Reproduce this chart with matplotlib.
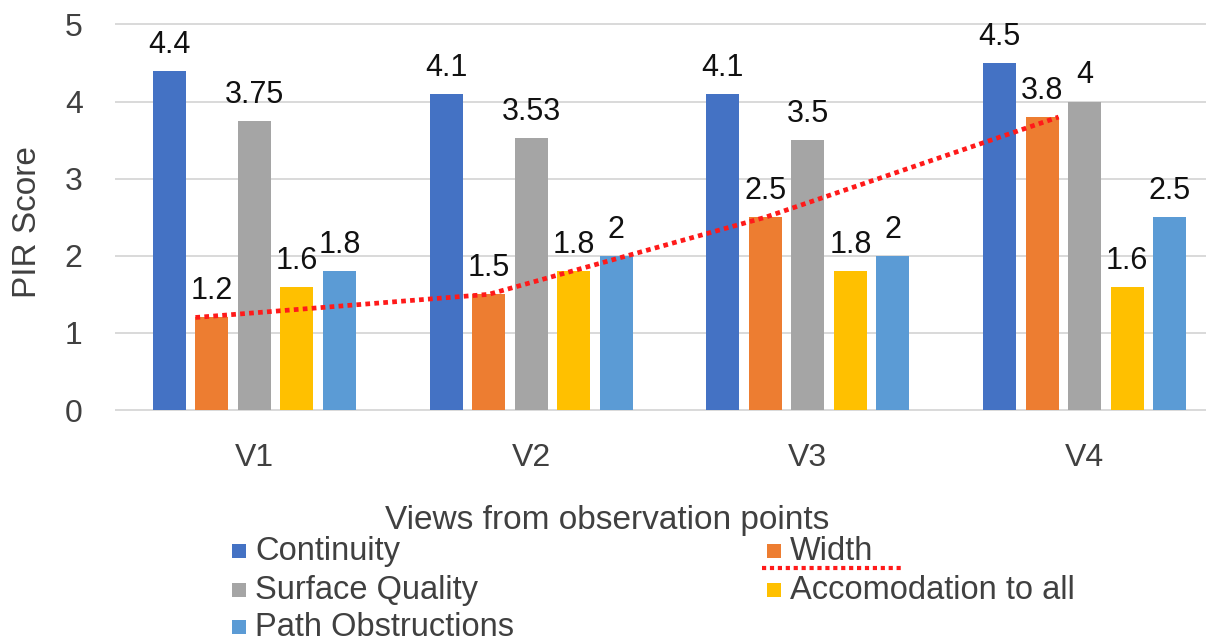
import matplotlib.pyplot as plt
from matplotlib.patches import Rectangle
from matplotlib.lines import Line2D
import numpy as np

plt.rcParams['font.family'] = ['Liberation Sans', 'DejaVu Sans']

views = ['V1', 'V2', 'V3', 'V4']
series = ['Continuity', 'Width', 'Surface Quality', 'Accomodation to all', 'Path Obstructions']
continuity = [4.4, 4.1, 4.1, 4.5]
width = [1.2, 1.5, 2.5, 3.8]
surface = [3.75, 3.53, 3.5, 4.0]
accomodation = [1.6, 1.8, 1.8, 1.6]
obstructions = [1.8, 2.0, 2.0, 2.5]
value_labels = [
    ['4.4', '4.1', '4.1', '4.5'],
    ['1.2', '1.5', '2.5', '3.8'],
    ['3.75', '3.53', '3.5', '4'],
    ['1.6', '1.8', '1.8', '1.6'],
    ['1.8', '2', '2', '2.5'],
]

colors = ['#4472C4', '#ED7D31', '#A5A5A5', '#FFC000', '#5B9BD5']
W, H = 1206, 643

fig = plt.figure(figsize=(W / 100, H / 100), dpi=100)
fig.patch.set_facecolor('white')
# axes runs slightly past the right edge so the last group sits as in a cropped chart
ax = fig.add_axes([116 / W, 1 - 410 / H, 1107 / W, 385.5 / H])
ax.set_xlim(-0.5, 3.5)
ax.set_ylim(0, 5)

x = np.arange(len(views))
bw = 0.119
step = 0.1535
data = [continuity, width, surface, accomodation, obstructions]
for i, (vals, c, labs) in enumerate(zip(data, colors, value_labels)):
    xs = x + (i - 2) * step
    ax.bar(xs, vals, width=bw, color=c, zorder=2)
    for xi, v, t in zip(xs, vals, labs):
        ax.annotate(t, (xi, v), xytext=(0, 8), textcoords='offset points',
                    ha='center', va='bottom', fontsize=22, color='#111111', zorder=4)

# dotted trend over the Width bars
wx = list(x + (1 - 2) * step)
wx[0] -= bw / 2
wx[-1] += bw / 2
ax.plot(wx, width, color='#FF1A1A', lw=3.4, linestyle=(0, (1, 0.9)),
        dash_capstyle='butt', zorder=3)

ax.set_yticks(range(6))
ax.yaxis.grid(True, color='#D9D9D9', lw=1.4, zorder=0)
for gl in ax.get_ygridlines():
    gl.set_clip_on(False)
ax.set_axisbelow(True)
for s in ax.spines.values():
    s.set_visible(False)
ax.tick_params(axis='both', length=0, labelsize=23, colors='#404040')
ax.tick_params(axis='y', pad=24)
ax.tick_params(axis='x', pad=24)
ax.set_xticks(x)
ax.set_xticklabels(views)

fig.text(28 / W, 1 - 222 / H, 'PIR Score', rotation=90, ha='center', va='center',
         fontsize=24, color='#404040')
fig.text(607 / W, 1 - 529 / H, 'Views from observation points', ha='center', va='baseline',
         fontsize=24, color='#404040')

# legend, two columns
legend_items = [
    (232, 551, colors[0], series[0]),
    (767, 551, colors[1], series[1]),
    (232, 590, colors[2], series[2]),
    (767, 590, colors[3], series[3]),
    (232, 627, colors[4], series[4]),
]
for px, py, c, name in legend_items:
    fig.add_artist(Rectangle((px / W, 1 - (py + 7) / H), 14 / W, 14 / H,
                             transform=fig.transFigure, facecolor=c, edgecolor='none'))
    fig.text((px + 23) / W, 1 - (py + 9) / H, name, ha='left', va='baseline',
             fontsize=23.5, color='#404040')
fig.add_artist(Line2D([762 / W, 902 / W], [1 - 568 / H, 1 - 568 / H],
                      transform=fig.transFigure, color='#FF1A1A', lw=3,
                      linestyle=(0, (1, 0.9))))

fig.savefig('out.png', dpi=100)
